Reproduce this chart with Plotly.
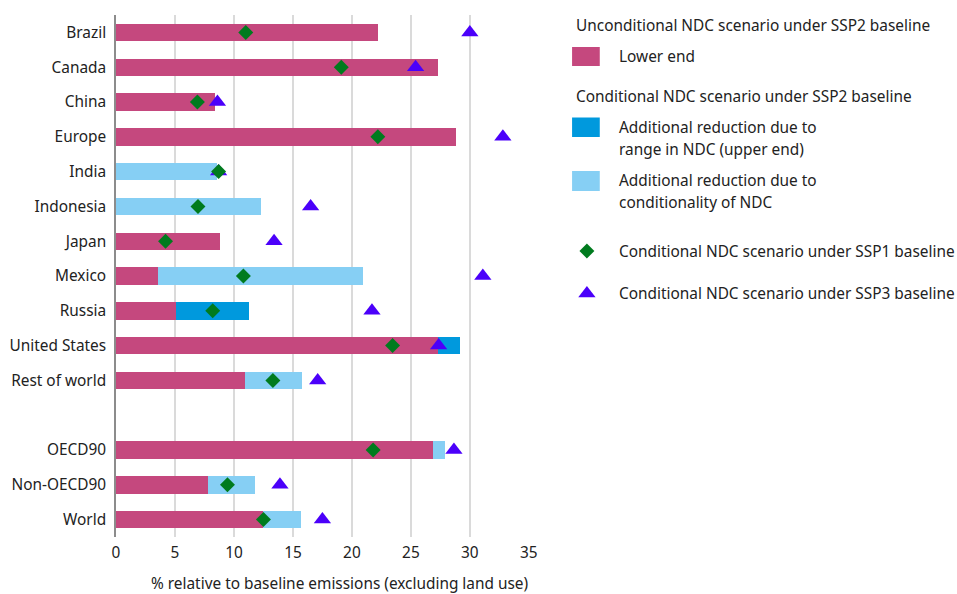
import plotly.graph_objects as go

# ---------------- data ----------------
categories = ["Brazil", "Canada", "China", "Europe", "India", "Indonesia", "Japan",
              "Mexico", "Russia", "United States", "Rest of world", " ",
              "OECD90", "Non-OECD90", "World"]
# Unconditional NDC (SSP2) - lower end
lower_end = [22.2, 27.3, 8.4, 28.8, 0, 0, 8.8, 3.6, 5.1, 27.3, 10.9, None, 26.9, 7.8, 12.5]
# Additional reduction due to range in NDC (upper end)
range_add = [0, 0, 0, 0, 0, 0, 0, 0, 6.15, 1.9, 0, None, 0, 0, 0]
# Additional reduction due to conditionality of NDC
cond_add = [0, 0, 0, 0, 8.6, 12.3, 0, 17.3, 0, 0, 4.9, None, 0.95, 3.95, 3.2]
# Conditional NDC scenario under SSP1 baseline
ssp1 = [11.0, 19.1, 6.9, 22.2, 8.7, 6.95, 4.2, 10.8, 8.2, 23.45, 13.3, None, 21.8, 9.45, 12.5]
# Conditional NDC scenario under SSP3 baseline
ssp3 = [30.0, 25.4, 8.6, 32.8, 8.7, 16.5, 13.4, 31.1, 21.7, 27.35, 17.1, None, 28.65, 13.9, 17.5]

x_ticks = [0, 5, 10, 15, 20, 25, 30, 35]

PINK = "#C5487E"
BLUE = "#0099DD"
LIGHT = "#86CFF4"
GREEN = "#007B1E"
PURPLE = "#4B00FA"
TXT = "#222222"
FONT = "Noto Sans"
FS = 15.4

fig = go.Figure()
fig.add_trace(go.Bar(y=categories, x=lower_end, orientation="h", marker_color=PINK,
                     marker_line_width=0, name="Lower end", showlegend=False))
fig.add_trace(go.Bar(y=categories, x=range_add, orientation="h", marker_color=BLUE,
                     marker_line_width=0, name="Range", showlegend=False))
fig.add_trace(go.Bar(y=categories, x=cond_add, orientation="h", marker_color=LIGHT,
                     marker_line_width=0, name="Conditionality", showlegend=False))
fig.add_trace(go.Scatter(y=categories, x=ssp3, mode="markers",
                         marker=dict(symbol="triangle-up", size=15, color=PURPLE),
                         showlegend=False, cliponaxis=False))
fig.add_trace(go.Scatter(y=categories, x=ssp1, mode="markers",
                         marker=dict(symbol="diamond", size=11.5, color=GREEN),
                         showlegend=False, cliponaxis=False))

# -------------- legend (drawn on a pixel-scaled helper axis) --------------
L_LEFT = 577
L_TEXT = 621
leg_titles = [("Unconditional NDC scenario under SSP2 baseline", 25),
              ("Conditional NDC scenario under SSP2 baseline", 96)]
leg_swatches = [(PINK, 47, 66), (BLUE, 117.5, 137), (LIGHT, 171, 191)]
leg_lines = [("Lower end", 56), ("Additional reduction due to", 127),
             ("range in NDC (upper end)", 149), ("Additional reduction due to", 180),
             ("conditionality of NDC", 202),
             ("Conditional NDC scenario under SSP1 baseline", 251),
             ("Conditional NDC scenario under SSP3 baseline", 293.5)]

annotations = []
for t, yy in leg_titles:
    annotations.append(dict(text=t, x=L_LEFT + 1.5, y=yy, xref="x2", yref="y2", showarrow=False,
                            xanchor="left", yanchor="middle",
                            font=dict(family=FONT, size=FS, color=TXT)))
for t, yy in leg_lines:
    annotations.append(dict(text=t, x=L_TEXT + 1, y=yy, xref="x2", yref="y2", showarrow=False,
                            xanchor="left", yanchor="middle",
                            font=dict(family=FONT, size=FS, color=TXT)))
shapes = []
for c, y0, y1 in leg_swatches:
    shapes.append(dict(type="rect", xref="x2", yref="y2", x0=L_LEFT, x1=L_LEFT + 28,
                       y0=y0, y1=y1, fillcolor=c, line_width=0))

fig.add_trace(go.Scatter(x=[592], y=[251], xaxis="x2", yaxis="y2", mode="markers",
                         marker=dict(symbol="diamond", size=11.5, color=GREEN),
                         showlegend=False, hoverinfo="skip", cliponaxis=False))
fig.add_trace(go.Scatter(x=[592], y=[293.5], xaxis="x2", yaxis="y2", mode="markers",
                         marker=dict(symbol="triangle-up", size=15, color=PURPLE),
                         showlegend=False, hoverinfo="skip", cliponaxis=False))

# x-axis title as annotation
annotations.append(dict(text="% relative to baseline emissions (excluding land use)",
                        x=(342 - 116) / 841, y=(537 - 583) / 522, xref="paper", yref="paper",
                        showarrow=False, xanchor="center", yanchor="middle",
                        font=dict(family=FONT, size=FS, color=TXT)))

fig.update_layout(
    width=957, height=594,
    margin=dict(l=116, r=0, t=15, b=57),
    paper_bgcolor="white", plot_bgcolor="white",
    barmode="stack", bargap=0.5,
    font=dict(family=FONT, size=FS, color=TXT),
    xaxis=dict(domain=[0, 417.3 / 841], range=[0, 35], tickvals=x_ticks,
               showgrid=True, gridcolor="#DADADA", gridwidth=1.5,
               zeroline=False, showline=False, ticks="outside", ticklen=2,
               tickcolor="rgba(0,0,0,0)", tickfont=dict(family=FONT, size=FS, color=TXT),
               fixedrange=True),
    yaxis=dict(categoryorder="array", categoryarray=categories,
               range=[len(categories) - 0.5, -0.5],
               showline=True, linecolor="#8C8C8C", linewidth=1.5, showgrid=False,
               zeroline=False, ticks="outside", ticklen=5, tickcolor="rgba(0,0,0,0)",
               tickfont=dict(family=FONT, size=FS, color=TXT), fixedrange=True),
    xaxis2=dict(domain=[0.5, 1], range=[116 + 0.5 * 841, 957], visible=False,
                anchor="y2", fixedrange=True),
    yaxis2=dict(domain=[0, 1], range=[537, 15], visible=False, anchor="x2",
                fixedrange=True),
    annotations=annotations, shapes=shapes,
)

fig.write_html("out.html", config={"displayModeBar": False},
               post_script="document.body.style.margin='0';document.body.style.overflow='hidden';")
